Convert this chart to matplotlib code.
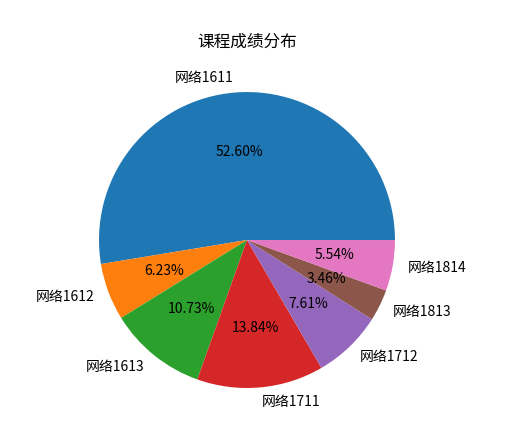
import matplotlib
matplotlib.use("Agg")
import matplotlib.pyplot as plt

plt.rcParams['font.family'] = ['Noto Sans CJK SC', 'DejaVu Sans']
plt.rcParams['axes.unicode_minus'] = False

labels = ['网络1611', '网络1612', '网络1613', '网络1711', '网络1712', '网络1813', '网络1814']
counts = [152, 18, 31, 40, 22, 10, 16]
title = '课程成绩分布'

fig = plt.figure(figsize=(5.3, 4.4), dpi=100)
ax = fig.add_axes([0.117, 0.034, 0.698, 0.841])
ax.pie(counts, labels=labels, autopct='%1.2f%%')
ax.set_title(title)
fig.savefig('out.png', dpi=100)
